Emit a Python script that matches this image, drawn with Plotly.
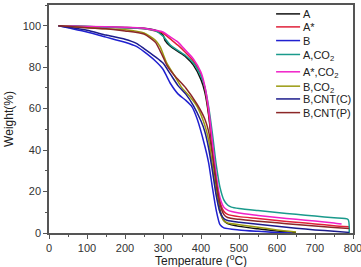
import plotly.graph_objects as go

# ---- data ----
names = ["A", "A*", "B", "A,CO<sub>2</sub>", "A*,CO<sub>2</sub>", "B,CO<sub>2</sub>", "B,CNT(C)", "B,CNT(P)"]
colors = ["#111111", "#E0203A", "#2020D0", "#1A9A8C", "#F020C8", "#9A9A10", "#1C1C8C", "#8C2828"]

T_A = [25, 100, 200, 250, 280, 300, 305, 320, 340, 360, 380, 400, 410, 420, 430, 440, 450, 460, 470, 500, 550, 600, 650]
W_A = [100, 99.6, 99.2, 98.8, 97.8, 95.5, 93, 90, 87.5, 85, 81, 74, 68, 57, 40, 22, 11, 6, 4.5, 3.2, 2, 1, 0.3]

T_As = [25, 100, 200, 250, 280, 300, 320, 340, 360, 380, 400, 410, 420, 430, 440, 450, 460, 470, 500, 550, 600, 650, 700, 750, 790]
W_As = [100, 99.4, 99, 98.5, 97.5, 96.5, 93.5, 90.5, 87, 83, 76.5, 70, 58, 42, 26, 15, 10.5, 9, 7.9, 7, 6, 5.2, 4.4, 3.5, 3]

T_B = [25, 50, 100, 150, 200, 230, 250, 280, 300, 320, 340, 360, 376, 390, 410, 420, 430, 440, 450, 460, 500, 550, 600, 640]
W_B = [100, 99, 97, 94.5, 92, 90, 87.5, 83, 79, 72, 67, 64, 61, 55, 42, 34, 22, 11, 4, 2.5, 1.5, 0.8, 0.2, 0]

T_ACO2 = [25, 100, 200, 250, 280, 300, 320, 340, 360, 380, 400, 410, 420, 430, 440, 450, 460, 470, 480, 500, 550, 600, 650, 700, 750, 787, 790]
W_ACO2 = [100, 99.6, 99, 98.5, 97.5, 95, 90.5, 88, 85.5, 82, 75.5, 70.5, 61, 48, 33, 22, 16, 13.5, 12.5, 11.8, 10.8, 9.9, 9, 8.2, 7.3, 6.5, 0]

T_AsCO2 = [25, 100, 200, 250, 280, 300, 320, 340, 360, 380, 400, 410, 420, 430, 440, 450, 460, 470, 500, 550, 600, 650, 700, 750, 770]
W_AsCO2 = [100, 99.6, 99.3, 98.8, 97.8, 97, 94.5, 92, 88, 84, 77.5, 71, 60, 44, 28, 17, 12.5, 11, 9.6, 8.5, 7.5, 6.6, 5.8, 4.8, 4.3]

T_BCO2 = [25, 100, 200, 250, 280, 292, 310, 330, 350, 370, 390, 410, 420, 430, 440, 450, 460, 470, 500, 550, 600, 650]
W_BCO2 = [100, 99, 98, 96.5, 93, 90, 82, 76, 70, 66, 61, 52, 45, 33, 20, 10, 6, 4.8, 4, 2.8, 1.5, 0.5]

T_BC = [25, 50, 100, 150, 200, 230, 250, 280, 300, 320, 340, 360, 380, 400, 410, 420, 430, 440, 450, 460, 470, 500, 550, 600, 650, 700, 750, 790]
W_BC = [100, 99.3, 97.8, 95.5, 93.5, 91.5, 89, 85, 82, 76.5, 71, 67, 61.5, 54, 49, 41, 30, 18, 10, 7, 6, 5.2, 4.2, 3.2, 2.3, 1.5, 0.8, 0.3]

T_BP = [25, 100, 150, 200, 250, 280, 292, 300, 310, 330, 360, 390, 410, 420, 430, 440, 450, 460, 470, 500, 550, 600, 650, 700, 750, 790]
W_BP = [100, 99, 98.5, 97.5, 96, 92, 88, 85, 81, 76, 70, 62, 55, 49, 38, 25, 14, 9, 7.5, 6.6, 5.7, 4.9, 4.1, 3.4, 2.7, 2.2]

series = [(T_A, W_A), (T_As, W_As), (T_B, W_B), (T_ACO2, W_ACO2),
          (T_AsCO2, W_AsCO2), (T_BCO2, W_BCO2), (T_BC, W_BC), (T_BP, W_BP)]

x_ticks = [0, 100, 200, 300, 400, 500, 600, 700, 800]
y_ticks = [0, 20, 40, 60, 80, 100]

FONT = "Liberation Sans, Arial"

fig = go.Figure()
for name, col, (t, w) in zip(names, colors, series):
    fig.add_trace(go.Scatter(x=t, y=w, mode="lines", name=name, showlegend=False,
                             line=dict(color=col, width=1.5, shape="spline", smoothing=0.6)))

# compact legend (top-right, inside the frame)
leg_y = [0.961, 0.904, 0.844, 0.783, 0.707, 0.644, 0.588, 0.528]
for name, col, yy in zip(names, colors, leg_y):
    fig.add_shape(type="line", xref="paper", yref="paper", x0=0.747, x1=0.826, y0=yy, y1=yy,
                  line=dict(color=col, width=1.5))
    shift = -0.006 if "<sub>" in name else 0.0
    fig.add_annotation(xref="paper", yref="paper", x=0.830, y=yy + shift, xanchor="left", yanchor="middle",
                       text=name, showarrow=False,
                       font=dict(family=FONT, size=11, color="#222222"))

# x-axis title (slightly cut by the bottom edge, as in the reference)
fig.add_annotation(xref="paper", yref="paper", x=0.5, y=-0.118, xanchor="center", yanchor="middle",
                   text="Temperature (<sup>o</sup>C)", showarrow=False,
                   font=dict(family=FONT, size=12, color="#222222"))

axis_common = dict(showline=True, linecolor="#555555", linewidth=1.5, mirror=True,
                   showgrid=False, zeroline=False, ticks="outside", ticklen=4, automargin=False,
                   ticklabeloverflow="allow",
                   tickcolor="#555555", tickfont=dict(family=FONT, size=11, color="#333333"))

fig.update_xaxes(range=[0, 800], tickvals=x_ticks,
                 minor=dict(ticks="outside", ticklen=2, dtick=50, tickcolor="#555555"),
                 **axis_common)
fig.update_yaxes(range=[0, 110], tickvals=y_ticks,
                 title=dict(text="Weight(%)", standoff=6,
                            font=dict(family=FONT, size=12, color="#222222")),
                 minor=dict(ticks="outside", ticklen=2, dtick=10, tickcolor="#555555"),
                 **axis_common)

fig.update_layout(
    width=361, height=267,
    margin=dict(l=49, r=8, t=5, b=34),
    paper_bgcolor="white", plot_bgcolor="white",
    showlegend=False,
)

fig.write_html("out.html")
